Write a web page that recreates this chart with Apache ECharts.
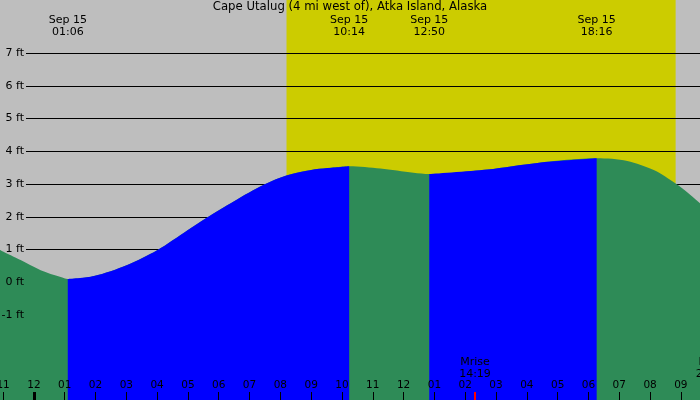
<!DOCTYPE html>
<html>
	<head>
		<meta charset="utf-8">
		<title>Cape Utalug tide</title>
		<script src="https://cdn.jsdelivr.net/npm/echarts@6/dist/echarts.min.js"></script>
		<style>
			html, body { margin: 0; padding: 0; }
		</style>
	</head>
	<body>
		<div id="main" style="width: 700px;height:400px;"></div>
		<script>
		// tide curve: hour of Sep 15, height in ft
		var tideHours = [-1.1, -0.43, 0.22, 0.87, 1.1, 1.95, 3.03, 4.0, 5.0, 5.57, 6.5, 7.46, 8.22, 9.0, 9.52, 10.233,
			11.25, 12.32, 12.833, 14.72, 16.34, 18.267, 19.26, 20.12, 20.83, 21.31, 21.7];
		var tideFeet = [1.0, 0.69, 0.38, 0.17, 0.11, 0.20, 0.54, 0.99, 1.61, 1.96, 2.49, 2.99, 3.28, 3.44, 3.50, 3.56,
			3.49, 3.36, 3.32, 3.46, 3.66, 3.80, 3.72, 3.44, 3.03, 2.68, 2.36];

		// blue parts: from a low/high to the next
		var blueWindows = [[1.1, 10.233], [12.833, 18.267]];

		// highs and lows named along the top
		var extremeHours = [1.1, 10.233, 12.833, 18.267];
		var extremeTimes = ['01:06', '10:14', '12:50', '18:16'];
		var extremeDate = 'Sep 15';

		var sunrise = 8.2, sunset = 20.83;

		var moonHours = [14.317, 22.0];
		var moonLabels = ['Mrise\n14:19', 'Mset\n22:00'];

		var hourTicks = [-1, 0, 1, 2, 3, 4, 5, 6, 7, 8, 9, 10, 11, 12, 13, 14, 15, 16, 17, 18, 19, 20, 21, 22];
		var feetLevels = [-1, 0, 1, 2, 3, 4, 5, 6, 7];

		var xMin = -1.1, xMax = 22.27;

		var tideData = [];
		for (var i = 0; i < tideHours.length; i++) {
			tideData.push([tideHours[i], tideFeet[i]]);
		}
		var blueData = [];
		for (var w = 0; w < blueWindows.length; w++) {
			if (w > 0) blueData.push([null, null]);
			for (var j = 0; j < tideHours.length; j++) {
				if (tideHours[j] >= blueWindows[w][0] && tideHours[j] <= blueWindows[w][1]) {
					blueData.push([tideHours[j], tideFeet[j]]);
				}
			}
		}

		function hourLabel(v) {
			var h = Math.round(v);
			h = ((h % 12) + 12) % 12;
			if (h == 0) h = 12;
			return (h < 10 ? '0' : '') + h;
		}
		function nearest(list, v) {
			var best = 0;
			for (var k = 0; k < list.length; k++) {
				if (Math.abs(list[k] - v) < Math.abs(list[best] - v)) best = k;
			}
			return best;
		}

		var font = 'DejaVu Sans';
		var chart = echarts.init(document.getElementById('main'));
		var option = {
			backgroundColor: '#bebebe',
			animation: false,
			title: {
				text: 'Cape Utalug (4 mi west of), Atka Island, Alaska',
				left: 'center',
				top: 1,
				padding: 0,
				textStyle: { fontFamily: font, fontSize: 11.7, fontWeight: 'normal', color: '#000' }
			},
			grid: [
				{ left: 0, right: -20, top: 0, bottom: 0, outerBoundsMode: 'none', containLabel: false },
				{ left: 26, right: 0, top: 53, bottom: 85, outerBoundsMode: 'none', containLabel: false }
			],
			xAxis: [
				{
					type: 'value', gridIndex: 0, position: 'bottom', min: xMin, max: xMax, z: 6,
					axisLine: { show: false, onZero: false },
					splitLine: { show: false },
					axisTick: { inside: true, length: 8, customValues: hourTicks, lineStyle: { color: '#000', width: 1 } },
					axisLabel: {
						inside: true, margin: 9, customValues: hourTicks, formatter: hourLabel,
						fontFamily: font, fontSize: 10.5, color: '#000'
					}
				},
				{
					type: 'value', gridIndex: 0, position: 'top', min: xMin, max: xMax, z: 6,
					axisLine: { show: false, onZero: false }, axisTick: { show: false }, splitLine: { show: false },
					axisLabel: {
						inside: true, margin: 14, customValues: extremeHours,
						formatter: function (v) { return extremeDate + '\n' + extremeTimes[nearest(extremeHours, v)]; },
						fontFamily: font, fontSize: 11, lineHeight: 12, color: '#000'
					}
				},
				{
					type: 'value', gridIndex: 0, position: 'bottom', min: xMin, max: xMax, z: 7,
					axisLine: { show: false, onZero: false }, splitLine: { show: false },
					axisTick: { inside: true, length: 8, customValues: [0], lineStyle: { color: '#000', width: 3 } },
					axisLabel: { show: false }
				},
				{
					type: 'value', gridIndex: 0, position: 'bottom', min: xMin, max: xMax, z: 7,
					axisLine: { show: false, onZero: false }, splitLine: { show: false },
					axisTick: { inside: true, length: 8, customValues: [moonHours[0]], lineStyle: { color: '#ff0000', width: 2 } },
					axisLabel: {
						inside: true, margin: 20, customValues: moonHours, align: 'center',
						formatter: function (v) { return moonLabels[nearest(moonHours, v)]; },
						fontFamily: font, fontSize: 11, lineHeight: 12, color: '#000'
					}
				},
				{ type: 'value', gridIndex: 1, min: 0, max: 1, show: false }
			],
			yAxis: [
				{ type: 'value', gridIndex: 0, min: -3.59, max: 8.64, show: false },
				{
					type: 'value', gridIndex: 1, position: 'left', min: -1, max: 7, interval: 1, z: 2,
					axisLine: { show: false, onZero: false }, axisTick: { show: false }, axisLabel: { show: false },
					splitLine: { show: true, lineStyle: { color: '#000', width: 1 } }
				},
				{
					type: 'value', gridIndex: 1, position: 'left', min: -1, max: 7, interval: 1, z: 6,
					axisLine: { show: false, onZero: false }, axisTick: { show: false }, splitLine: { show: false },
					axisLabel: {
						margin: 2, formatter: '{value} ft',
						fontFamily: font, fontSize: 11, color: '#000'
					}
				}
			],
			series: [
				{
					name: 'tide',
					type: 'line',
					xAxisIndex: 0, yAxisIndex: 0,
					data: tideData,
					smooth: 0.3,
					symbol: 'none',
					z: 3,
					lineStyle: { width: 0 },
					areaStyle: { color: '#2e8b57', opacity: 1, origin: 'start' },
					markArea: {
						silent: true,
						z: 1,
						itemStyle: { color: '#cccc00' },
						data: [[{ xAxis: sunrise }, { xAxis: sunset }]]
					}
				},
				{
					name: 'between',
					type: 'line',
					xAxisIndex: 0, yAxisIndex: 0,
					data: blueData,
					smooth: 0.3,
					connectNulls: false,
					symbol: 'none',
					z: 4,
					lineStyle: { width: 0 },
					areaStyle: { color: '#0000ff', opacity: 1, origin: 'start' }
				}
			]
		};
		chart.setOption(option);
		</script>
	</body>
</html>
